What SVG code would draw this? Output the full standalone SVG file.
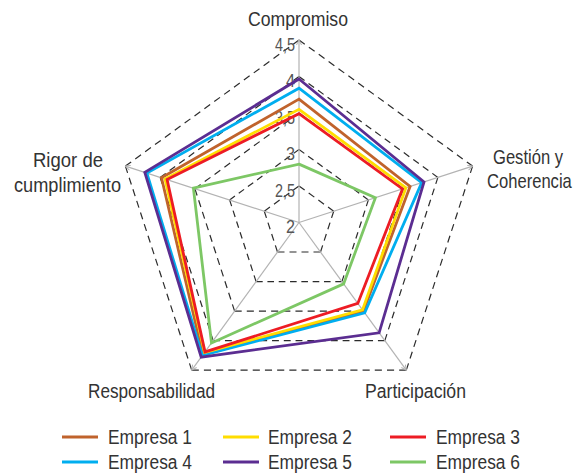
<svg xmlns="http://www.w3.org/2000/svg" width="586" height="473" viewBox="0 0 586 473">
<style>
.lbl{font-family:"Liberation Sans",Arial,sans-serif;font-size:20px;fill:#333}
.tick{font-family:"Liberation Sans",Arial,sans-serif;font-size:18px;fill:#555;text-anchor:end}
.ax{stroke:#b3b3b3;stroke-width:1.2;fill:none;marker-end:url(#arr)}
.g{stroke:#2b2b2b;stroke-width:1.2;stroke-dasharray:7 5;fill:none}
.s{fill:none;stroke-width:2.8;stroke-linejoin:miter}
.e1{stroke:#c0632c}.e2{stroke:#ffdd00}.e3{stroke:#ed1c24}.e4{stroke:#00aeef}.e5{stroke:#5b2d91}.e6{stroke:#7dc765}
</style>
<defs>
<marker id="arr" viewBox="0 0 6 6" refX="5.5" refY="3" markerWidth="6" markerHeight="6" orient="auto" markerUnits="userSpaceOnUse">
<path d="M0.5,0.5 L5.5,3 L0.5,5.5" fill="none" stroke="#b3b3b3" stroke-width="1"/>
</marker>
</defs>
<rect width="586" height="473" fill="#fff"/>
<g id="grid">
<g id="ring1">
<line class="g" pathLength="43" x1="299" y1="186" x2="333.7" y2="211.2"/>
<line class="g" pathLength="43" x1="333.7" y1="211.2" x2="320.5" y2="252"/>
<line class="g" pathLength="43" x1="320.5" y1="252" x2="277.5" y2="252"/>
<line class="g" pathLength="43" x1="277.5" y1="252" x2="264.3" y2="211.2"/>
<line class="g" pathLength="43" x1="264.3" y1="211.2" x2="299" y2="186"/>
</g>
<g id="ring2">
<line class="g" pathLength="91" x1="299" y1="149.5" x2="368.4" y2="199.9"/>
<line class="g" pathLength="91" x1="368.4" y1="199.9" x2="341.9" y2="281.6"/>
<line class="g" pathLength="91" x1="341.9" y1="281.6" x2="256.1" y2="281.6"/>
<line class="g" pathLength="91" x1="256.1" y1="281.6" x2="229.6" y2="199.9"/>
<line class="g" pathLength="91" x1="229.6" y1="199.9" x2="299" y2="149.5"/>
</g>
<g id="ring3">
<line class="g" pathLength="127" x1="299" y1="113" x2="403.1" y2="188.7"/>
<line class="g" pathLength="127" x1="403.1" y1="188.7" x2="363.4" y2="311.1"/>
<line class="g" pathLength="127" x1="363.4" y1="311.1" x2="234.6" y2="311.1"/>
<line class="g" pathLength="127" x1="234.6" y1="311.1" x2="194.9" y2="188.7"/>
<line class="g" pathLength="127" x1="194.9" y1="188.7" x2="299" y2="113"/>
</g>
<g id="ring4">
<line class="g" pathLength="175" x1="299" y1="76.5" x2="437.9" y2="177.4"/>
<line class="g" pathLength="175" x1="437.9" y1="177.4" x2="384.8" y2="340.6"/>
<line class="g" pathLength="175" x1="384.8" y1="340.6" x2="213.2" y2="340.6"/>
<line class="g" pathLength="175" x1="213.2" y1="340.6" x2="160.1" y2="177.4"/>
<line class="g" pathLength="175" x1="160.1" y1="177.4" x2="299" y2="76.5"/>
</g>
<g id="ring5">
<line class="g" pathLength="211" x1="299" y1="40" x2="472.6" y2="166.1"/>
<line class="g" pathLength="211" x1="472.6" y1="166.1" x2="406.3" y2="370.1"/>
<line class="g" pathLength="211" x1="406.3" y1="370.1" x2="191.7" y2="370.1"/>
<line class="g" pathLength="211" x1="191.7" y1="370.1" x2="125.4" y2="166.1"/>
<line class="g" pathLength="211" x1="125.4" y1="166.1" x2="299" y2="40"/>
</g>
</g>
<g id="connectors">
<line class="ax" x1="299" y1="222.5" x2="299" y2="40"/>
<line class="ax" x1="299" y1="222.5" x2="472.6" y2="166.1"/>
<line class="ax" x1="299" y1="222.5" x2="406.3" y2="370.1"/>
<line class="ax" x1="299" y1="222.5" x2="191.7" y2="370.1"/>
<line class="ax" x1="299" y1="222.5" x2="125.4" y2="166.1"/>
</g>
<g id="scale">
<text class="tick" x="295" y="233" textLength="9" lengthAdjust="spacingAndGlyphs">2</text>
<text class="tick" x="295" y="196.5" textLength="20" lengthAdjust="spacingAndGlyphs">2,5</text>
<text class="tick" x="295" y="160" textLength="9" lengthAdjust="spacingAndGlyphs">3</text>
<text class="tick" x="295" y="123.5" textLength="20" lengthAdjust="spacingAndGlyphs">3,5</text>
<text class="tick" x="295" y="87" textLength="9" lengthAdjust="spacingAndGlyphs">4</text>
<text class="tick" x="295" y="50.5" textLength="20" lengthAdjust="spacingAndGlyphs">4,5</text>
</g>
<g id="series">
<polygon id="empresa6" class="s e6" points="299,164.1 375.4,197.7 343.6,283.9 211.5,343 193.4,188.2"/>
<polygon id="empresa1" class="s e1" points="299,99.1 410.1,186.4 363.4,311.1 202.9,354.8 161.5,177.8"/>
<polygon id="empresa4" class="s e4" points="299,88.2 421.7,182.6 364.7,312.9 202.4,355.4 146.9,173.1"/>
<polygon id="empresa5" class="s e5" points="299,79 424,181.9 379.1,332.8 201.2,357.1 144.8,172.4"/>
<polygon id="empresa2" class="s e2" points="299,109.3 405.9,187.8 362.5,309.9 204.6,352.4 165,179"/>
<polygon id="empresa3" class="s e3" points="299,113.7 402.5,188.9 357.8,303.4 205,351.9 167.1,179.6"/>
</g>
<g id="axis-compromiso"><text class="lbl" x="248" y="26" textLength="100" lengthAdjust="spacingAndGlyphs">Compromiso</text></g>
<g id="axis-gestion"><text class="lbl" x="563" y="164" text-anchor="end" textLength="70" lengthAdjust="spacingAndGlyphs">Gestión y</text><text class="lbl" transform="translate(487,188) scale(0.83,1)">Coherencia</text></g>
<g id="axis-participacion"><text class="lbl" x="365" y="398" textLength="101" lengthAdjust="spacingAndGlyphs">Participación</text></g>
<g id="axis-responsabilidad"><text class="lbl" x="88" y="398" textLength="127" lengthAdjust="spacingAndGlyphs">Responsabilidad</text></g>
<g id="axis-rigor"><text class="lbl" x="33" y="167" textLength="70" lengthAdjust="spacingAndGlyphs">Rigor de</text><text class="lbl" x="14" y="192" textLength="107" lengthAdjust="spacingAndGlyphs">cumplimiento</text></g>
<g id="legend">
<g id="leg1"><line class="s e1" x1="62" y1="437" x2="98" y2="437"/><text class="lbl" x="108" y="444" textLength="84" lengthAdjust="spacingAndGlyphs">Empresa 1</text></g>
<g id="leg2"><line class="s e2" x1="223" y1="437" x2="259" y2="437"/><text class="lbl" x="268" y="444" textLength="84" lengthAdjust="spacingAndGlyphs">Empresa 2</text></g>
<g id="leg3"><line class="s e3" x1="390" y1="437" x2="426" y2="437"/><text class="lbl" x="436" y="444" textLength="84" lengthAdjust="spacingAndGlyphs">Empresa 3</text></g>
<g id="leg4"><line class="s e4" x1="62" y1="462" x2="98" y2="462"/><text class="lbl" x="108" y="469" textLength="84" lengthAdjust="spacingAndGlyphs">Empresa 4</text></g>
<g id="leg5"><line class="s e5" x1="223" y1="462" x2="259" y2="462"/><text class="lbl" x="268" y="469" textLength="84" lengthAdjust="spacingAndGlyphs">Empresa 5</text></g>
<g id="leg6"><line class="s e6" x1="390" y1="462" x2="426" y2="462"/><text class="lbl" x="436" y="469" textLength="84" lengthAdjust="spacingAndGlyphs">Empresa 6</text></g>
</g>
</svg>
